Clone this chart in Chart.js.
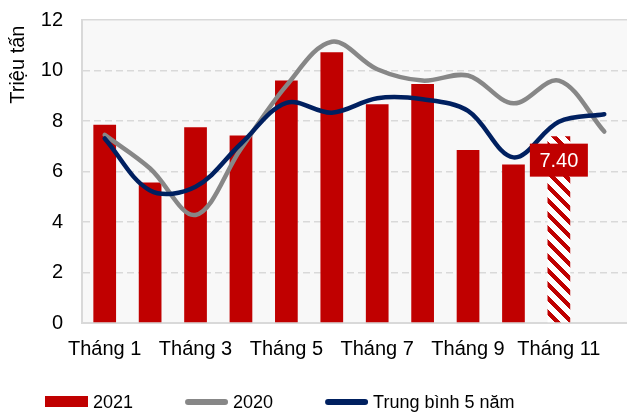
<!DOCTYPE html>
<html>
<head>
<meta charset="utf-8">
<script src="https://cdn.jsdelivr.net/npm/chart.js@4.4.1/dist/chart.umd.min.js"></script>
<style>
  html, body { margin: 0; padding: 0; background: #fff; }
  #wrap { width: 627px; height: 413px; }
</style>
</head>
<body>
<div id="wrap"><canvas id="chart" width="627" height="413"></canvas></div>
<script>
const months = ["Tháng 1", "Tháng 2", "Tháng 3", "Tháng 4", "Tháng 5", "Tháng 6",
  "Tháng 7", "Tháng 8", "Tháng 9", "Tháng 10", "Tháng 11", "Tháng 12"];
const values2021 = [7.85, 5.56, 7.75, 7.43, 9.6, 10.72, 8.66, 9.47, 6.85, 6.28, 7.40, null];
const values2020 = [7.45, 6.12, 4.28, 6.9, 9.4, 11.14, 10.05, 9.6, 9.8, 8.7, 9.6, 7.58];
const avg5Years = [7.31, 5.25, 5.4, 7.1, 8.72, 8.33, 8.9, 8.86, 8.4, 6.56, 7.97, 8.27];
const yTicks = [0, 2, 4, 6, 8, 10, 12];
const estimateIndex = 10; // hatched bar with the value box

const RED = "#C00000";
const GREY = "#878787";
const NAVY = "#002060";
const FONT = '"Liberation Sans", Arial, sans-serif';

Chart.defaults.font.family = FONT;
Chart.defaults.color = "#000";

const canvas = document.getElementById("chart");
const ctx = canvas.getContext("2d");

// red / white diagonal stripes for the estimated month
function makeHatch() {
  const size = 14;
  const c = document.createElement("canvas");
  c.width = size;
  c.height = size;
  const g = c.getContext("2d");
  const img = g.createImageData(size, size);
  for (let y = 0; y < size; y++) {
    for (let x = 0; x < size; x++) {
      const k = (y * size + x) * 4;
      const red = (((y - x) % size) + size) % size < 6;
      img.data[k] = red ? 192 : 255;
      img.data[k + 1] = red ? 0 : 255;
      img.data[k + 2] = red ? 0 : 255;
      img.data[k + 3] = 255;
    }
  }
  g.putImageData(img, 0, 0);
  return ctx.createPattern(c, "repeat");
}
const hatch = makeHatch();

const barColors = values2021.map((v, i) => (i === estimateIndex ? hatch : RED));

const plotBg = {
  id: "plotBg",
  beforeDraw(chart) {
    const { ctx, chartArea: a } = chart;
    ctx.save();
    ctx.fillStyle = "#f8f8f8";
    ctx.fillRect(a.left, a.top, a.right - a.left, a.bottom - a.top);
    ctx.restore();
  },
};

const valueBox = {
  id: "valueBox",
  afterDatasetsDraw(chart) {
    const bar = chart.getDatasetMeta(2).data[estimateIndex];
    if (!bar) return;
    const { ctx } = chart;
    const cx = bar.x;
    const cy = bar.y + 24;
    ctx.save();
    ctx.fillStyle = RED;
    ctx.fillRect(cx - 29, cy - 16.5, 58, 33);
    ctx.fillStyle = "#fff";
    ctx.font = "20px " + FONT;
    ctx.textAlign = "center";
    ctx.textBaseline = "middle";
    ctx.fillText(values2021[estimateIndex].toFixed(2), cx, cy + 1);
    ctx.restore();
  },
};

const bottomLegend = {
  id: "bottomLegend",
  afterDraw(chart) {
    const { ctx } = chart;
    const items = [2, 1, 0].map((i) => chart.data.datasets[i]);
    let x = 45;
    const y = 402;
    ctx.save();
    ctx.font = "18px " + FONT;
    ctx.textBaseline = "middle";
    ctx.textAlign = "left";
    items.forEach((ds) => {
      if (ds.type === "bar") {
        ctx.fillStyle = RED;
        ctx.fillRect(x, y - 6, 43, 11);
      } else {
        ctx.strokeStyle = ds.borderColor;
        ctx.lineWidth = 6;
        ctx.lineCap = "round";
        ctx.beginPath();
        ctx.moveTo(x + 3, y);
        ctx.lineTo(x + 40, y);
        ctx.stroke();
      }
      ctx.fillStyle = "#000";
      ctx.fillText(ds.label, x + 48, y + 1);
      x += 48 + ctx.measureText(ds.label).width + 52;
    });
    ctx.restore();
  },
};

new Chart(canvas, {
  data: {
    labels: months,
    datasets: [
      {
        type: "line",
        label: "Trung bình 5 năm",
        data: avg5Years,
        borderColor: NAVY,
        borderWidth: 4.5,
        borderCapStyle: "round",
        pointRadius: 0,
        tension: 0.35,
        order: 1,
      },
      {
        type: "line",
        label: "2020",
        data: values2020,
        borderColor: GREY,
        borderWidth: 4.5,
        borderCapStyle: "round",
        pointRadius: 0,
        tension: 0.35,
        order: 2,
      },
      {
        type: "bar",
        label: "2021",
        data: values2021,
        backgroundColor: barColors,
        categoryPercentage: 1,
        barPercentage: 0.5,
        order: 3,
      },
    ],
  },
  options: {
    responsive: false,
    animation: false,
    layout: { padding: { top: 0, right: -3, bottom: 45, left: 0 } },
    plugins: {
      legend: { display: false },
      tooltip: { enabled: false },
    },
    scales: {
      x: {
        grid: { display: false },
        border: { display: true, color: "#d9d9d9", width: 2 },
        ticks: {
          autoSkip: false,
          maxRotation: 0,
          padding: 6,
          font: { size: 20 },
          callback: (v, i) => (i % 2 === 0 ? months[i] : ""),
        },
        afterFit: (s) => { s.height = 45; },
      },
      y: {
        min: yTicks[0],
        max: yTicks[yTicks.length - 1],
        afterBuildTicks: (s) => { s.ticks = yTicks.map((v) => ({ value: v })); },
        grid: {
          color: "#d9d9d9",
          lineWidth: 1.5,
          drawTicks: true,
          tickLength: 11,
          tickColor: "rgba(0,0,0,0)",
        },
        border: {
          display: true,
          color: "#d9d9d9",
          width: 2,
          dash: (c) => (c.tick && c.tick.value === yTicks[yTicks.length - 1] ? [] : [7, 4]),
        },
        ticks: { padding: 8, font: { size: 20 } },
        title: {
          display: true,
          align: "end",
          text: "Triệu tấn ",
          font: { size: 20 },
          padding: { top: 6, bottom: 0 },
        },
        afterFit: (s) => { s.width = 82; },
      },
    },
  },
  plugins: [plotBg, valueBox, bottomLegend],
});
</script>
</body>
</html>
